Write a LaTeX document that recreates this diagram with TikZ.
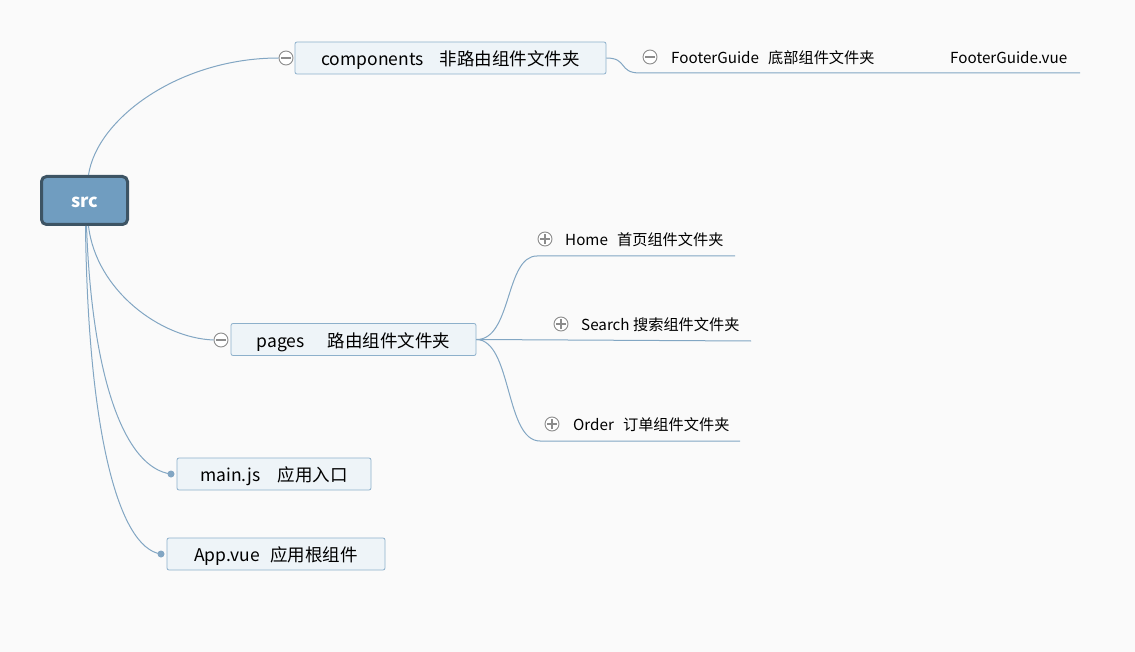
\documentclass[tikz,border=0pt]{standalone}
\usepackage{fontspec}
\setmainfont{Noto Sans CJK SC}
\usetikzlibrary{positioning}
\definecolor{bgcol}{HTML}{FAFAFA}
\definecolor{linecol}{HTML}{82A6C3}
\definecolor{topicfill}{HTML}{EEF4F8}
\definecolor{topicdraw}{HTML}{8DB0CB}
\definecolor{rootfill}{HTML}{709DC0}
\definecolor{rootdraw}{HTML}{3D5464}
\definecolor{foldgray}{HTML}{8C8C8C}
\begin{document}
\begin{tikzpicture}[x=1pt,y=-1pt,
    branch/.style={draw=linecol,line width=1pt},
    root/.style={draw=rootdraw,fill=rootfill,line width=3pt,rounded corners=5pt,minimum width=86pt,minimum height=48pt,text=white,text height=1.5em,text depth=0.05em,font=\fontsize{18}{21}\selectfont\bfseries},
    topic/.style={draw=topicdraw,fill=topicfill,line width=0.8pt,rounded corners=2pt,minimum height=32pt,inner sep=0pt,text height=1.55em,text depth=0.05em,font=\fontsize{17.5}{20}\selectfont},
    subtopic/.style={anchor=west,inner sep=0pt,text height=1.3em,text depth=0.05em,font=\fontsize{15.2}{18}\selectfont},
    fold/.style={circle,draw=foldgray,fill=white,line width=0.9pt,minimum size=14pt,inner sep=0pt},
    foldminus/.style={fold,path picture={\draw[foldgray,line width=1.1pt] ([xshift=-5pt]path picture bounding box.center)--([xshift=5pt]path picture bounding box.center);}},
    foldplus/.style={fold,path picture={\draw[foldgray,line width=1.1pt] ([xshift=-5pt]path picture bounding box.center)--([xshift=5pt]path picture bounding box.center) ([yshift=-5pt]path picture bounding box.center)--([yshift=5pt]path picture bounding box.center);}},
    enddot/.style={circle,fill=linecol,minimum size=7pt,inner sep=0pt}]
  \fill[bgcol] (0,0) rectangle (1135,652);
  \useasboundingbox (0,0) rectangle (1135,652);
  \node[root] (src) at (84.5,200.5) {src};
  \node[topic,minimum width=311pt] (comp) at (450.5,58) {components\hspace{0.9em}非路由组件文件夹};
  \node[foldminus] (compfold) at (286,58) {};
  \node[topic,minimum width=245pt] (pages) at (353.5,339.5) {pages\hspace{1.3em}路由组件文件夹};
  \node[foldminus] (pagesfold) at (221,340) {};
  \node[topic,minimum width=194pt] (mainjs) at (274,474) {main.js\hspace{1em}应用入口};
  \node[enddot] (mainjsdot) at (171,474) {};
  \node[topic,minimum width=218pt] (appvue) at (276,554) {App.vue\hspace{0.6em}应用根组件};
  \node[enddot] (appvuedot) at (161,554) {};
  \node[subtopic] (footer) at (671,57) {FooterGuide\hspace{0.6em}底部组件文件夹};
  \node[foldminus] (footerfold) at (650,57) {};
  \node[subtopic] (footervue) at (950,57) {FooterGuide.vue};
  \coordinate (footerl) at (640,73);
  \coordinate (footerr) at (912,73);
  \coordinate (footervuer) at (1080,73);
  \node[subtopic] (home) at (565,239) {Home\hspace{0.6em}首页组件文件夹};
  \node[foldplus] (homefold) at (545,239) {};
  \coordinate (homel) at (537,256);
  \coordinate (homer) at (735,256);
  \node[subtopic] (search) at (581,324) {Search 搜索组件文件夹};
  \node[foldplus] (searchfold) at (561,324) {};
  \coordinate (searchr) at (751,341);
  \node[subtopic] (order) at (573,424) {Order\hspace{0.6em}订单组件文件夹};
  \node[foldplus] (orderfold) at (552,424) {};
  \coordinate (orderl) at (540,441);
  \coordinate (orderr) at (740,441);
  \draw[branch] ([xshift=4pt]src.north) .. controls (97,118) and (180,58) .. (compfold.west);
  \draw[branch] ([xshift=4pt]src.south) .. controls (96,290) and (160,338) .. (pagesfold.west);
  \draw[branch] ([xshift=2pt]src.south) .. controls (92,380) and (125,468) .. (mainjsdot.center);
  \draw[branch] ([xshift=1pt]src.south) .. controls (88,430) and (118,548) .. (appvuedot.center);
  \draw[branch] (comp.east) .. controls (628,58) and (618,73) .. (footerl) -- (footerr) -- (footervuer);
  \draw[branch] (pages.east) .. controls (512,340) and (505,256) .. (homel) -- (homer);
  \draw[branch] (pages.east) -- (searchr);
  \draw[branch] (pages.east) .. controls (512,340) and (505,441) .. (orderl) -- (orderr);
\end{tikzpicture}
\end{document}
